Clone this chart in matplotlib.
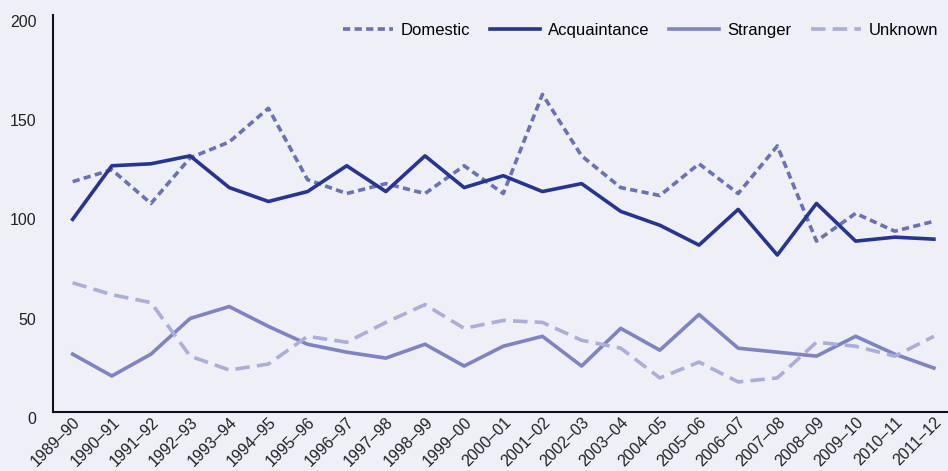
import matplotlib.pyplot as plt
from matplotlib import font_manager

# Homicide incidents by victim-offender relationship
years = ['1989–90', '1990–91', '1991–92', '1992–93', '1993–94', '1994–95',
         '1995–96', '1996–97', '1997–98', '1998–99', '1999–00', '2000–01',
         '2001–02', '2002–03', '2003–04', '2004–05', '2005–06', '2006–07',
         '2007–08', '2008–09', '2009–10', '2010–11', '2011–12']
domestic = [116, 122, 105, 128, 136, 153, 117, 110, 115, 110, 124, 110,
            160, 129, 113, 109, 125, 110, 134, 86, 100, 91, 96]
acquaintance = [97, 124, 125, 129, 113, 106, 111, 124, 111, 129, 113, 119,
                111, 115, 101, 94, 84, 102, 79, 105, 86, 88, 87]
stranger = [29, 18, 29, 47, 53, 43, 34, 30, 27, 34, 23, 33,
            38, 23, 42, 31, 49, 32, 30, 28, 38, 29, 22]
unknown = [65, 59, 55, 28, 21, 24, 38, 35, 45, 54, 42, 46,
           45, 36, 32, 17, 25, 15, 17, 35, 33, 28, 38]

names = [f.name for f in font_manager.fontManager.ttflist]
if 'Liberation Sans Narrow' in names:
    plt.rcParams['font.family'] = ['Liberation Sans Narrow', 'DejaVu Sans']
else:
    plt.rcParams['font.family'] = ['Liberation Sans', 'DejaVu Sans']

bg = '#eeeff7'
fig = plt.figure(figsize=(9.48, 4.71), dpi=100, facecolor=bg)
ax = fig.add_axes([0.056, 0.126, 0.944, 0.842], facecolor=bg)

x = range(len(years))
ax.plot(x, domestic, color='#6b71b9', lw=2.6, ls=(0, (2, 1.2)), label='Domestic')
ax.plot(x, acquaintance, color='#263591', lw=2.6, label='Acquaintance')
ax.plot(x, stranger, color='#7e83c3', lw=2.6, label='Stranger')
ax.plot(x, unknown, color='#aaaed8', lw=2.6, ls=(0, (4, 2)), label='Unknown')

ax.set_xlim(-0.5, 22.36)
ax.set_ylim(0, 200)
ax.set_yticks([0, 50, 100, 150, 200])
ax.set_yticklabels(['0', '50', '100', '150', '200'], va='top')
ax.set_xticks(list(x))
ax.set_xticklabels(years, rotation=45, ha='right', rotation_mode='anchor')
ax.tick_params(axis='both', length=0, labelsize=11.5, colors='#222222')
ax.tick_params(axis='y', pad=12)
ax.tick_params(axis='x', pad=2)

for s in ['top', 'right']:
    ax.spines[s].set_visible(False)
for s in ['left', 'bottom']:
    ax.spines[s].set_linewidth(1.5)
    ax.spines[s].set_color('#111111')

ax.legend(loc='upper right', bbox_to_anchor=(1.0, 1.005), ncol=4, frameon=False,
          fontsize=12, handlelength=3.0, columnspacing=1.2, handletextpad=0.45,
          borderaxespad=0.2)

fig.savefig('out.png', dpi=100, facecolor=bg)
